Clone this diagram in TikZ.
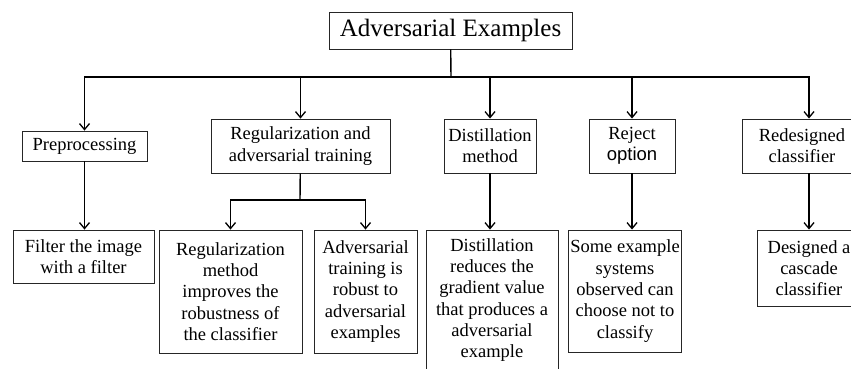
\documentclass[tikz,border=0pt]{standalone}
\usepackage{fontspec}
\setmainfont{Liberation Serif}
\newfontfamily\optfont{Liberation Sans}
\usetikzlibrary{arrows.meta}
\begin{document}
\begin{tikzpicture}[x=1pt,y=-1pt,
    box/.style={draw=black!85,line width=0.9pt,align=center,inner sep=2pt,
      font=\fontsize{18.5}{21.3}\selectfont},
    link/.style={line width=1.4pt},
    arr/.style={link,-{Straight Barb[length=6pt,width=10pt,line width=1.3pt]}}]
  \useasboundingbox (0,0) rectangle (851,368);
  % top
  \node[box,minimum width=243,minimum height=37,font=\fontsize{25}{28}\selectfont]
    (title) at (450.5,30.5) {Adversarial Examples};
  % second row
  \node[box,minimum width=125,minimum height=30] (pre) at (84.5,146) {Preprocessing};
  \node[box,minimum width=179,minimum height=54] (reg) at (300.5,146)
    {Regularization and\\adversarial training};
  \node[box,minimum width=92,minimum height=54] (dist) at (490,146)
    {Distillation\\method};
  \node[box,minimum width=86,minimum height=54] (rej) at (632,146)
    {Reject\\{\optfont option}};
  \node[box,minimum width=120,minimum height=54] (red) at (802,146)
    {Redesigned\\classifier};
  % third row
  \node[box,minimum width=141,minimum height=53] (filt) at (83.5,256.5)
    {Filter the image\\with a filter};
  \node[box,minimum width=143,minimum height=123] (regm) at (230.5,291.5)
    {Regularization\\method\\improves the\\robustness of\\the classifier};
  \node[box,minimum width=103,minimum height=123] (advt) at (365.5,291.5)
    {Adversarial\\training is\\robust to\\adversarial\\examples};
  \node[box,minimum width=132,minimum height=140] (distr) at (492,300)
    {Distillation\\reduces the\\gradient value\\that produces a\\adversarial\\example};
  \node[box,minimum width=100,minimum height=122] (some) at (625,291)
    {Some example\\systems\\observed can\\choose not to\\classify};
  \node[box,minimum width=104,minimum height=76] (des) at (809,268)
    {Designed a\\cascade\\classifier};
  % connectors
  \coordinate (hub) at (451,77);
  \coordinate (split) at (300,200);
  \draw[link] (title) -- (hub);
  \draw[arr] (hub) -| (pre.north);
  \draw[arr] (hub) -| (reg.north);
  \draw[arr] (hub) -| (dist.north);
  \draw[arr] (hub) -| (rej.north);
  \draw[arr] (hub) -| (red.north -| des.north);
  \draw[arr] (pre) -- (pre.south |- filt.north);
  \draw[link] (reg) -- (split);
  \draw[arr] (split) -| (regm.north);
  \draw[arr] (split) -| (advt.north);
  \draw[arr] (dist) -- (dist.south |- distr.north);
  \draw[arr] (rej) -- (rej.south |- some.north);
  \draw[arr] (red.south -| des.north) -- (des.north);
\end{tikzpicture}
\end{document}
